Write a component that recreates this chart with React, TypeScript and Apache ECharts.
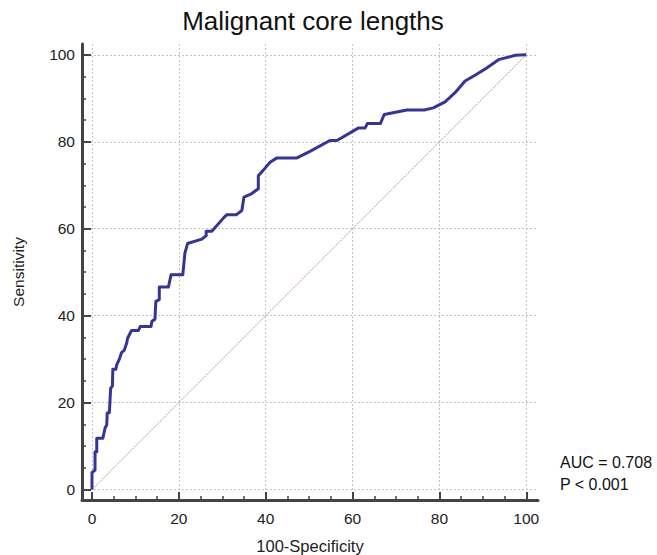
import React, { useEffect, useRef } from "react";
import * as echarts from "echarts";

const titleText = "Malignant core lengths";
const xName = "100-Specificity";
const yName = "Sensitivity";
const statLines = ["AUC = 0.708", "P < 0.001"];
const majorTicks = [0, 20, 40, 60, 80, 100];
const minorTicks = [5, 10, 15, 25, 30, 35, 45, 50, 55, 65, 70, 75, 85, 90, 95];

// ROC curve (100-Specificity, Sensitivity)
const rocX = [
  0, 0, 0.7, 0.7, 1.1, 1.1, 2.5, 3.0, 3.4, 3.5, 4.0, 4.3, 4.7, 4.8, 5.5, 5.7, 6.3, 6.8,
  7.4, 8.0, 8.2, 9.1, 10.7, 11.1, 13.6, 13.8, 14.5, 14.7, 15.5, 15.5, 17.6, 18.2, 20.9,
  21.4, 22.0, 25.3, 26.3, 26.3, 27.6, 30.3, 31.0, 33.2, 34.5, 35.0, 36.8, 38.3, 38.3,
  39.9, 41.0, 42.6, 47.2, 50.2, 54.8, 56.4, 61.4, 62.9, 63.4, 66.4, 67.3, 72.5, 76.5,
  78.6, 81.3, 83.6, 85.9, 88.2, 90.9, 93.6, 97.5, 100,
];
const rocY = [
  0, 3.9, 4.5, 8.7, 8.7, 11.8, 11.8, 14.1, 14.9, 17.6, 17.7, 23.3, 23.8, 27.7, 27.7, 28.7,
  30.0, 31.5, 32.0, 33.7, 34.8, 36.6, 36.6, 37.5, 37.5, 38.7, 39.2, 43.3, 43.7, 46.6, 46.6,
  49.4, 49.4, 54.4, 56.6, 57.6, 58.4, 59.4, 59.4, 62.5, 63.2, 63.2, 64.2, 67.3, 68.1, 69.2,
  72.2, 74.0, 75.3, 76.3, 76.3, 77.8, 80.3, 80.3, 83.2, 83.2, 84.2, 84.2, 86.3, 87.3, 87.3,
  87.8, 89.2, 91.3, 94.0, 95.3, 97.0, 98.9, 99.9, 100,
];
// reference diagonal
const refX = [0, 100];
const refY = [0, 100];

const FONT = "'Liberation Sans', Arial, sans-serif";

export default function App() {
  const ref = useRef<HTMLDivElement>(null);
  useEffect(() => {
    if (!ref.current) return;
    const chart = echarts.init(ref.current, undefined, { renderer: "svg" });
    const axisCommon = {
      type: "value" as const,
      axisLine: { show: true, onZero: false, lineStyle: { color: "#444", width: 3 } },
    };
    chart.setOption({
      animation: false,
      backgroundColor: "#fff",
      grid: { left: 82, top: 44, width: 456, height: 456, containLabel: false },
      xAxis: [
        {
          ...axisCommon,
          min: -2.3,
          max: 102.7,
          position: "bottom",
          axisTick: { show: true, inside: true, length: 8, customValues: majorTicks, lineStyle: { color: "#444", width: 2 } },
          axisLabel: { show: true, customValues: majorTicks, margin: 10, fontSize: 15.5, color: "#222", fontFamily: FONT },
          splitLine: { show: true, lineStyle: { color: "#c4c4c4", type: [2, 2], width: 1 } },
        },
        {
          type: "value",
          min: -2.3,
          max: 102.7,
          position: "bottom",
          axisLine: { show: false, onZero: false },
          axisTick: { show: true, inside: true, length: 4, customValues: minorTicks, lineStyle: { color: "#444", width: 1.5 } },
          axisLabel: { show: false },
          splitLine: { show: false },
        },
      ],
      yAxis: [
        {
          ...axisCommon,
          min: -2.4,
          max: 102.5,
          position: "left",
          axisTick: { show: true, inside: true, length: 9, customValues: majorTicks, lineStyle: { color: "#444", width: 2 } },
          axisLabel: { show: true, customValues: majorTicks, margin: 7, fontSize: 15.5, color: "#222", fontFamily: FONT },
          splitLine: { show: true, lineStyle: { color: "#c4c4c4", type: [2, 2], width: 1 } },
        },
        {
          type: "value",
          min: -2.4,
          max: 102.5,
          position: "left",
          axisLine: { show: false, onZero: false },
          axisTick: { show: true, inside: true, length: 4, customValues: minorTicks, lineStyle: { color: "#444", width: 1.5 } },
          axisLabel: { show: false },
          splitLine: { show: false },
        },
      ],
      series: [
        {
          type: "line",
          xAxisIndex: 0,
          yAxisIndex: 0,
          data: refX.map((x, i) => [x, refY[i]]),
          symbol: "none",
          lineStyle: { color: "#c48c8c", width: 1, type: [2, 1] },
          silent: true,
          z: 2,
        },
        {
          type: "line",
          xAxisIndex: 0,
          yAxisIndex: 0,
          data: rocX.map((x, i) => [x, rocY[i]]),
          symbol: "none",
          lineStyle: { color: "#353596", width: 3, join: "round" },
          silent: true,
          z: 3,
        },
      ],
      graphic: [
        {
          type: "text",
          x: 313,
          y: 21,
          style: { text: titleText, font: `26px ${FONT}`, fill: "#111", align: "center", verticalAlign: "middle" },
        },
        {
          type: "text",
          x: 18,
          y: 272,
          rotation: Math.PI / 2,
          style: { text: yName, font: `15.5px ${FONT}`, fill: "#222", align: "center", verticalAlign: "middle" },
        },
        {
          type: "text",
          x: 310,
          y: 546,
          style: { text: xName, font: `16.5px ${FONT}`, fill: "#222", align: "center", verticalAlign: "middle" },
        },
        {
          type: "text",
          x: 560,
          y: 462,
          style: { text: statLines[0], font: `16px ${FONT}`, fill: "#111", align: "left", verticalAlign: "middle" },
        },
        {
          type: "text",
          x: 560,
          y: 484,
          style: { text: statLines[1], font: `16px ${FONT}`, fill: "#111", align: "left", verticalAlign: "middle" },
        },
      ],
    });
    return () => chart.dispose();
  }, []);
  return (
    <div
      ref={ref}
      style={{ position: "fixed", left: 0, top: 0, width: 657, height: 555, background: "#fff" }}
    />
  );
}
